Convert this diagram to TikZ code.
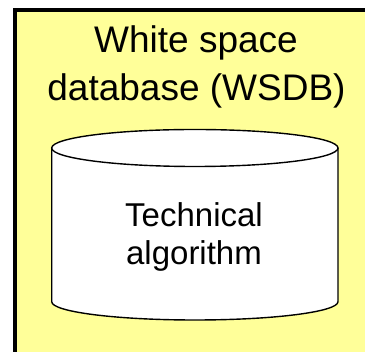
\documentclass[tikz,border=0pt]{standalone}
\usepackage{fontspec}
\setmainfont{Liberation Sans}
\definecolor{paleyellow}{RGB}{255,255,153}
\begin{document}
\begin{tikzpicture}[x=1pt,y=-1pt,
  titletext/.style={anchor=base,inner sep=0pt,font=\fontsize{37}{44}\selectfont},
  cyltext/.style={anchor=base,inner sep=0pt,font=\fontsize{33}{39}\selectfont}]
\useasboundingbox (0,0) rectangle (365,352);
\fill[white] (0,0) rectangle (365,352);
\draw[line width=4pt,fill=paleyellow] (15,10.5) rectangle (385,375);
% cylinder
\draw[line width=1.4pt,fill=white]
  (51.7,148) -- (51.7,301.7) arc[start angle=180,end angle=0,x radius=143.15,y radius=18.3]
  -- (338,148);
\draw[line width=1.4pt,fill=white] (194.85,148) ellipse[x radius=143.15,y radius=18.5];
\node[titletext] (t1) at (196,52.5) {White space};
\node[titletext] (t2) at (196.5,101) {database (WSDB)};
\node[cyltext] (c1) at (194,226.7) {Technical};
\node[cyltext] (c2) at (194,265) {algorithm};
\end{tikzpicture}
\end{document}
